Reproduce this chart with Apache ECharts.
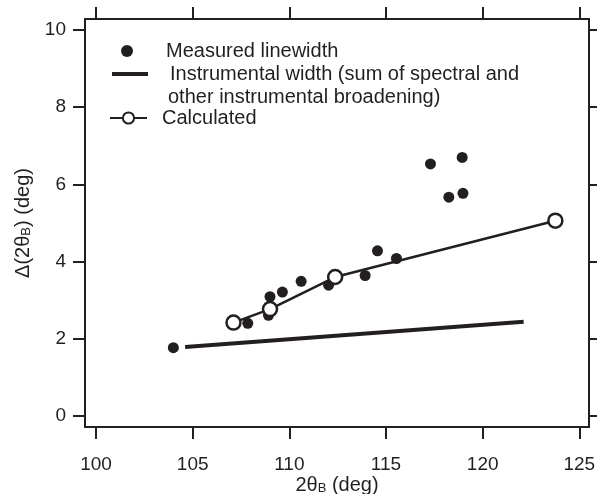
<!DOCTYPE html>
<html>
<head>
<meta charset="utf-8">
<script src="https://cdn.jsdelivr.net/npm/echarts@6/dist/echarts.min.js"></script>
<style>html,body{margin:0;padding:0;background:#fff;}#c{width:597px;height:494px;}</style>
</head>
<body>
<div id="c"></div>
<script>
const xTicks = [100, 105, 110, 115, 120, 125];
const yTicks = [0, 2, 4, 6, 8, 10];
const measured = [
  [104.0, 1.77], [107.85, 2.40], [108.92, 2.61], [109.0, 3.09], [109.64, 3.21],
  [110.61, 3.49], [112.03, 3.39], [113.92, 3.64], [114.56, 4.28], [115.54, 4.08],
  [117.30, 6.53], [118.94, 6.70], [118.25, 5.67], [118.98, 5.77]
];
const instrumental = [[104.61, 1.79], [122.12, 2.44]];
const calculated = [[107.11, 2.42], [109.0, 2.77], [112.37, 3.60], [123.76, 5.06]];
const names = ['Measured linewidth', 'Instrumental width (sum of spectral and', 'Calculated'];
const instrumentalLine2 = 'other instrumental broadening)';

const C = '#231f20';
const FONT = 'Liberation Sans';
const chart = echarts.init(document.getElementById('c'), null, {renderer: 'canvas'});
const axisCommon = {
  type: 'value', min: 99.43, max: 125.5,
  axisLine: {show: true, onZero: false, lineStyle: {color: C, width: 2}},
  axisTick: {show: true, inside: false, length: 12, lineStyle: {color: C, width: 2}, customValues: xTicks},
  splitLine: {show: false}
};
const yCommon = {
  type: 'value', min: -0.285, max: 10.285,
  axisLine: {show: true, onZero: false, lineStyle: {color: C, width: 2}},
  axisTick: {show: true, inside: false, length: 12, lineStyle: {color: C, width: 2}, customValues: yTicks},
  splitLine: {show: false}
};
const richName = {
  n: {fontFamily: FONT, fontSize: 20, color: C, lineHeight: 24, verticalAlign: 'bottom'},
  s: {fontFamily: FONT, fontSize: 13, color: C, lineHeight: 13, verticalAlign: 'bottom'}
};
const legText = {fontFamily: FONT, fontSize: 20, color: C};
chart.setOption({
  animation: false,
  grid: {left: 85, right: 8, top: 19, bottom: 67, containLabel: false, outerBoundsMode: 'none'},
  xAxis: [
    Object.assign({}, axisCommon, {
      position: 'bottom',
      axisLabel: {show: true, customValues: xTicks, margin: 28, fontFamily: FONT, fontSize: 19, color: C},
      name: '{n|2θ}{s|B}{n| (deg)}', nameLocation: 'middle', nameGap: 44, nameMoveOverlap: false,
      nameTextStyle: {rich: richName}
    }),
    Object.assign({}, axisCommon, {position: 'top', axisLabel: {show: false}})
  ],
  yAxis: [
    Object.assign({}, yCommon, {
      position: 'left',
      axisLabel: {show: true, customValues: yTicks, margin: 19, fontFamily: FONT, fontSize: 19, color: C},
      name: '{n|Δ(2θ}{s|B}{n|) (deg)}', nameLocation: 'middle', nameGap: 52, nameRotate: 90, nameMoveOverlap: false,
      nameTextStyle: {rich: richName}
    }),
    Object.assign({}, yCommon, {position: 'right', axisLabel: {show: false}})
  ],
  legend: [
    {data: [names[0]], orient: 'vertical', left: 121, top: 41, padding: 0, itemWidth: 12, itemHeight: 12, itemGap: 0,
     textStyle: Object.assign({padding: [0, 0, 0, 28]}, legText)},
    {data: [{name: names[1], icon: 'rect'}], orient: 'vertical', left: 112, top: 64, padding: 0, itemWidth: 36, itemHeight: 4, itemGap: 0,
     itemStyle: {color: C}, textStyle: Object.assign({padding: [0, 0, 0, 17]}, legText)},
    {data: [names[2]], orient: 'vertical', left: 109, top: 108, padding: 0, itemWidth: 37, itemHeight: 14, itemGap: 0,
     textStyle: Object.assign({padding: [0, 0, 0, 10]}, legText)}
  ],
  graphic: [
    {type: 'text', left: 168, top: 87, style: {text: instrumentalLine2, font: '20px "Liberation Sans"', fill: C}}
  ],
  series: [
    {name: names[0], type: 'scatter', data: measured, symbol: 'circle', symbolSize: 11,
     itemStyle: {color: C, opacity: 1}, z: 2},
    {name: names[1], type: 'line', data: instrumental, symbol: 'none', itemStyle: {color: C}, lineStyle: {color: C, width: 4}, z: 3},
    {name: names[2], type: 'line', data: calculated, symbol: 'circle', symbolSize: 14, showAllSymbol: true,
     lineStyle: {color: C, width: 2.5}, itemStyle: {color: '#fff', borderColor: C, borderWidth: 2.5}, z: 4}
  ]
});
</script>
</body>
</html>
